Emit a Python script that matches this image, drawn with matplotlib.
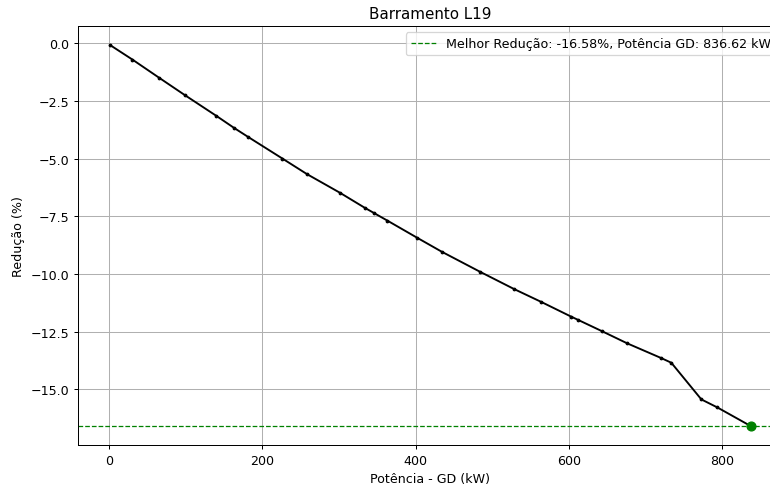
import numpy as np
import matplotlib.pyplot as plt

# potencia GD (kW) e reducao (%)
potencia = [1.3, 30.5, 65.4, 99.3, 139.5, 163.4, 181.7, 226.1, 258.4, 301.0,
            333.3, 345.5, 363.0, 402.2, 434.0, 484.0, 528.5, 563.4, 602.6,
            612.2, 642.7, 675.8, 720.3, 733.3, 772.5, 793.5, 836.62]
reducao = [-0.07, -0.70, -1.49, -2.25, -3.13, -3.67, -4.06, -4.99, -5.67,
           -6.47, -7.12, -7.35, -7.68, -8.43, -9.03, -9.90, -10.65, -11.20,
           -11.84, -11.99, -12.47, -13.00, -13.64, -13.84, -15.43, -15.78,
           -16.58]

melhor_pot = 836.62
melhor_red = -16.58

dpi = 91
fig = plt.figure(figsize=(770 / dpi, 487 / dpi), dpi=dpi)
# o original foi cortado a direita, entao o eixo passa da borda
ax = fig.add_axes([0.1013, 0.0842, 0.9150, 0.8604])

ax.plot(potencia, reducao, color='black', linewidth=1.5,
        marker='o', markersize=2)
ax.axhline(melhor_red, color='green', linestyle='--', linewidth=1,
           label=f'Melhor Redução: {melhor_red:.2f}%, Potência GD: {melhor_pot:.2f} kW')
ax.plot([melhor_pot], [melhor_red], 'o', color='green', markersize=7)

ax.set_title('Barramento L19')
ax.set_xlabel('Potência - GD (kW)')
ax.set_ylabel('Redução (%)')
ax.grid(True)
ax.legend(loc='upper right')

fig.savefig('out.png', dpi=dpi)
